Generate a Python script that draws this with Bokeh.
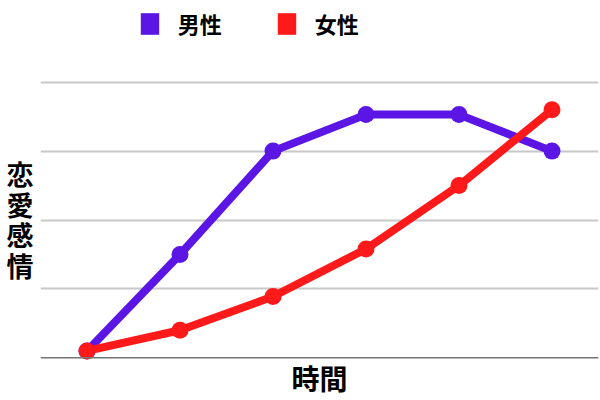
from bokeh.plotting import figure
from bokeh.layouts import column
from bokeh.models import (ColumnDataSource, Legend, LegendItem, Span,
                          FixedTicker, Range1d)
from bokeh.embed import file_html
from bokeh.resources import INLINE

# ---- data ----
time_points = [0, 1, 2, 3, 4, 5]
male = [0.1, 1.5, 3.0, 3.53, 3.53, 3.0]
female = [0.1, 0.4, 0.89, 1.58, 2.5, 3.6]
series_names = ["男性", "女性"]
grid_levels = [1, 2, 3, 4]
baseline_level = 0
x_title = "時間"
y_title = "恋\n愛\n感\n情"

PURPLE = "#5b16e6"
RED = "#fe1a1a"
FONT = "Noto Sans CJK JP"

src = ColumnDataSource(dict(t=time_points, male=male, female=female))

# ---------- main plot ----------
p = figure(width=600, height=324, output_backend="svg", toolbar_location=None,
           x_range=Range1d(-0.5, 5.5), y_range=Range1d(-0.068, 4.083),
           min_border_left=40, min_border_right=2, min_border_top=0,
           min_border_bottom=0)
p.outline_line_color = None
p.background_fill_color = "white"
p.border_fill_color = "white"

for ax in (p.xaxis[0], p.yaxis[0]):
    ax.ticker = FixedTicker(ticks=[])
    ax.axis_line_color = None
    ax.major_tick_line_color = None
    ax.minor_tick_line_color = None
    ax.major_tick_in = 0
    ax.major_tick_out = 0
    ax.minor_tick_in = 0
    ax.minor_tick_out = 0
    ax.major_label_text_font_size = "0px"
    ax.major_label_standoff = 0
    ax.axis_label_text_font = FONT
    ax.axis_label_text_font_style = "bold"
    ax.axis_label_text_color = "black"

p.xaxis.axis_label = x_title
p.xaxis.axis_label_text_font_size = "28px"
p.xaxis.axis_label_standoff = -5

p.yaxis.axis_label = y_title
p.yaxis.axis_label_orientation = "horizontal"
p.yaxis.axis_label_text_font_size = "27px"
p.yaxis.axis_label_text_line_height = 0.784
p.yaxis.axis_label_standoff = 7

p.xgrid.visible = False
p.ygrid.ticker = FixedTicker(ticks=grid_levels)
p.ygrid.grid_line_color = "#c8c8c8"
p.ygrid.grid_line_width = 2
p.add_layout(Span(location=baseline_level, dimension="width",
                  line_color="#757575", line_width=1.5))

p.line("t", "male", source=src, line_color=PURPLE, line_width=8, line_join="round")
p.scatter("t", "male", source=src, size=17, fill_color=PURPLE, line_color=None)
p.line("t", "female", source=src, line_color=RED, line_width=8, line_join="round")
p.scatter("t", "female", source=src, size=17, fill_color=RED, line_color=None)

# ---------- legend strip ----------
lg = figure(width=600, height=76, output_backend="svg", toolbar_location=None,
            x_axis_location=None, y_axis_location=None,
            min_border_left=0, min_border_right=0, min_border_top=0,
            min_border_bottom=0)
lg.outline_line_color = None
lg.grid.visible = False
lg.border_fill_color = "white"
lg.background_fill_color = "white"

# zero-area quads used only as legend swatches
male_leg = lg.quad(left="t", right="t", top="male", bottom="male", source=src,
                   fill_color=PURPLE, line_color=None)
female_leg = lg.quad(left="t", right="t", top="female", bottom="female", source=src,
                     fill_color=RED, line_color=None)

legend = Legend(items=[LegendItem(label=series_names[0], renderers=[male_leg]),
                       LegendItem(label=series_names[1], renderers=[female_leg])],
                orientation="horizontal", location=(97.7, 37),
                glyph_width=23, glyph_height=27, label_standoff=17, spacing=53,
                padding=0, margin=0, border_line_color=None,
                background_fill_alpha=0,
                label_text_font=FONT, label_text_font_style="bold",
                label_text_font_size="22px", label_text_color="black")
lg.add_layout(legend)

open("out.html", "w").write(file_html(column(lg, p, spacing=0), INLINE))
